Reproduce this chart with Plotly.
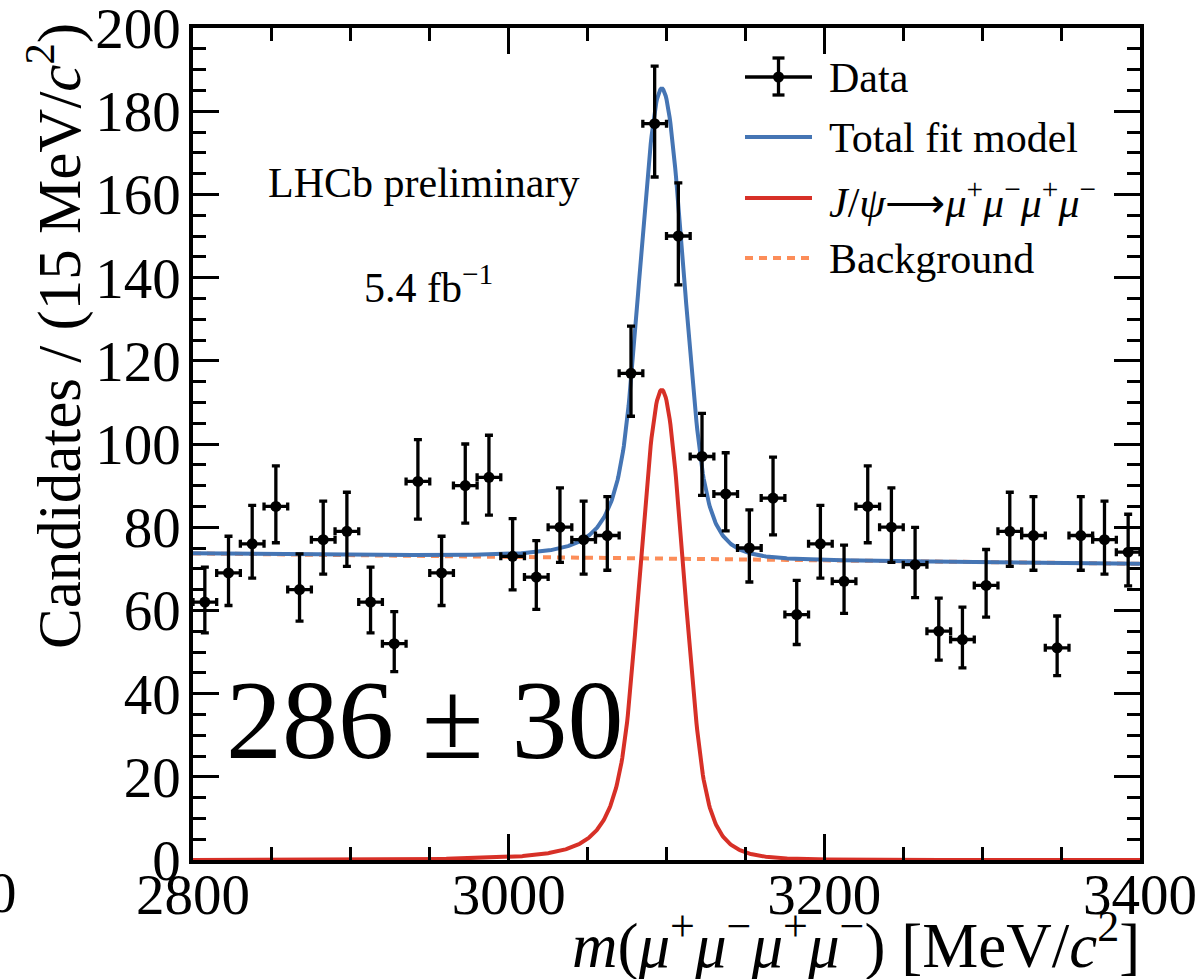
import numpy as np
import plotly.graph_objects as go

# ---------------- data ----------------
BIN_WIDTH = 15.0
MASS_LO, MASS_HI = 2800.0, 3400.0
counts = [62, 69, 76, 85, 65, 77, 79, 62, 52, 91,
          69, 90, 92, 73, 68, 80, 77, 78, 117, 177,
          150, 97, 88, 75, 87, 59, 76, 67, 85, 80,
          71, 55, 53, 66, 79, 78, 51, 78, 77, 74]

# fit model parameters
SIG_MEAN = 3097.0
SIG_SIGMA = 14.0
SIG_PEAK = 113.0
ALPHA_L, N_L = 1.5, 3.0
ALPHA_R, N_R = 1.7, 5.0
BKG_AT_LO, BKG_AT_HI = 73.7, 71.2

x_ticks = [2800, 3000, 3200, 3400]
y_ticks = list(range(0, 201, 20))

# ---------------- helpers ----------------
FONT = "Liberation Serif"
PL, PR, PT, PB = 193, 1140, 28, 860
W, H = 1204, 979


def px(xp):
    return (xp - PL) / (PR - PL)


def py(yp):
    return (PB - yp) / (PB - PT)


def dscb(m):
    t = (np.asarray(m) - SIG_MEAN) / SIG_SIGMA
    out = np.exp(-0.5 * t ** 2)
    left = t < -ALPHA_L
    right = t > ALPHA_R
    aL = (N_L / ALPHA_L)
    bL = N_L / ALPHA_L - ALPHA_L
    out[left] = np.exp(-0.5 * ALPHA_L ** 2) * (aL / (bL - t[left])) ** N_L
    aR = (N_R / ALPHA_R)
    bR = N_R / ALPHA_R - ALPHA_R
    out[right] = np.exp(-0.5 * ALPHA_R ** 2) * (aR / (bR + t[right])) ** N_R
    return SIG_PEAK * out


def bkg(m):
    m = np.asarray(m)
    return BKG_AT_LO + (BKG_AT_HI - BKG_AT_LO) * (m - MASS_LO) / (MASS_HI - MASS_LO)


counts_arr = np.array(counts, dtype=float)
centers = MASS_LO + BIN_WIDTH * (np.arange(len(counts)) + 0.5)
err_hi = 0.5 + np.sqrt(counts_arr + 0.25)
err_lo = -0.5 + np.sqrt(counts_arr + 0.25)

mgrid = np.linspace(MASS_LO, MASS_HI, 1201)
sig_curve = dscb(mgrid)
bkg_curve = bkg(mgrid)
tot_curve = sig_curve + bkg_curve

BLUE = "#4575b4"
RED = "#d73027"
ORANGE = "#fc8d59"

fig = go.Figure()
fig.add_trace(go.Scatter(x=mgrid, y=bkg_curve, mode="lines",
                         line=dict(color=ORANGE, width=4, dash="8px,6px"),
                         name="Background", showlegend=False))
fig.add_trace(go.Scatter(x=mgrid, y=tot_curve, mode="lines",
                         line=dict(color=BLUE, width=4),
                         name="Total fit model", showlegend=False))
fig.add_trace(go.Scatter(x=mgrid, y=sig_curve, mode="lines",
                         line=dict(color=RED, width=4),
                         name="J/psi", showlegend=False))
fig.add_trace(go.Scatter(
    x=centers, y=counts_arr, mode="markers",
    marker=dict(color="black", size=11),
    error_y=dict(type="data", symmetric=False, array=err_hi, arrayminus=err_lo,
                 color="black", thickness=3.3, width=4),
    error_x=dict(type="constant", value=BIN_WIDTH / 2, color="black",
                 thickness=3.3, width=4),
    name="Data", showlegend=False))

# ---------------- legend (manual) ----------------
shapes = []
annotations = []
leg_x0, leg_x1, leg_text_x = 745, 812, 827
leg_y = [77, 137, 198, 258]
leg_labels = ["Data", "Total fit model",
              "<i>J</i>/<i>ψ</i>⟶<i>μ</i><sup>+</sup><i>μ</i><sup>−</sup><i>μ</i><sup>+</sup><i>μ</i><sup>−</sup>",
              "Background"]
leg_styles = [dict(color="black", width=3.3),
              dict(color=BLUE, width=4),
              dict(color=RED, width=4),
              dict(color=ORANGE, width=4, dash="8px,6px")]
for yy, lab, st in zip(leg_y, leg_labels, leg_styles):
    shapes.append(dict(type="line", xref="paper", yref="paper",
                       x0=px(leg_x0), x1=px(leg_x1), y0=py(yy), y1=py(yy), line=st))
    annotations.append(dict(text=lab, xref="paper", yref="paper", x=px(leg_text_x), y=py(yy + 1),
                            xanchor="left", yanchor="middle", showarrow=False,
                            font=dict(family=FONT, size=42, color="black")))
# data legend: vertical error bar, caps, dot
cx = (leg_x0 + leg_x1) / 2
shapes.append(dict(type="line", xref="paper", yref="paper", x0=px(cx), x1=px(cx),
                   y0=py(58), y1=py(95), line=dict(color="black", width=3.3)))
for capy in (58, 95):
    shapes.append(dict(type="line", xref="paper", yref="paper", x0=px(cx - 6), x1=px(cx + 6),
                       y0=py(capy), y1=py(capy), line=dict(color="black", width=3.3)))
shapes.append(dict(type="circle", xref="paper", yref="paper", x0=px(cx - 5.5), x1=px(cx + 5.5),
                   y0=py(77 + 5.5), y1=py(77 - 5.5), fillcolor="black", line=dict(color="black", width=0)))

# ---------------- texts ----------------
annotations += [
    dict(text="LHCb preliminary", xref="paper", yref="paper", x=px(423), y=py(183),
         xanchor="center", yanchor="middle", showarrow=False,
         font=dict(family=FONT, size=42, color="black")),
    dict(text="5.4 fb<sup>−1</sup>", xref="paper", yref="paper", x=px(428), y=py(285),
         xanchor="center", yanchor="middle", showarrow=False,
         font=dict(family=FONT, size=42, color="black")),
    dict(text="286 ± 30", xref="paper", yref="paper", x=px(424), y=py(720),
         xanchor="center", yanchor="middle", showarrow=False,
         font=dict(family=FONT, size=112, color="black")),
    dict(text="Candidates / (15 MeV/<i>c</i><sup>2</sup>)", xref="paper", yref="paper",
         x=px(55), y=py(336), xanchor="center", yanchor="middle", textangle=-90,
         showarrow=False, font=dict(family=FONT, size=61, color="black")),
    dict(text="<i>m</i>(<i>μ</i><sup>+</sup><i>μ</i><sup>−</sup><i>μ</i><sup>+</sup><i>μ</i><sup>−</sup>) [MeV/<i>c</i><sup>2</sup>]",
         xref="paper", yref="paper", x=px(1142), y=py(941), xanchor="right", yanchor="middle",
         showarrow=False, font=dict(family=FONT, size=63, color="black")),
    dict(text="0", xref="paper", yref="paper", x=px(2), y=py(893), xanchor="center",
         yanchor="middle", showarrow=False, font=dict(family=FONT, size=57, color="black")),
]

axis_common = dict(showgrid=False, zeroline=False, showline=True, linecolor="black",
                   linewidth=3.5, mirror="ticks", ticks="inside", ticklen=26, tickwidth=3,
                   tickcolor="black", ticklabeloverflow="allow", automargin=False,
                   tickfont=dict(family=FONT, size=57, color="black"))

fig.update_layout(
    template="none",
    width=W, height=H,
    margin=dict(l=PL, r=W - PR, t=PT, b=H - PB, pad=0),
    paper_bgcolor="white", plot_bgcolor="white",
    showlegend=False,
    shapes=shapes, annotations=annotations,
    xaxis=dict(range=[MASS_LO, MASS_HI], tickvals=x_ticks, ticktext=[str(v) for v in x_ticks],
               minor=dict(dtick=50, tick0=2800, ticks="inside", ticklen=13, tickwidth=3,
                          tickcolor="black", showgrid=False),
               ticklabelstandoff=-18, **axis_common),
    yaxis=dict(range=[0, 200], tickvals=y_ticks, ticktext=[str(v) for v in y_ticks],
               minor=dict(dtick=5, tick0=0, ticks="inside", ticklen=13, tickwidth=3,
                          tickcolor="black", showgrid=False),
               ticklabelstandoff=-3, **axis_common),
)

fig.write_html("out.html", config={"displayModeBar": False},
               post_script="document.body.style.margin='0';")
